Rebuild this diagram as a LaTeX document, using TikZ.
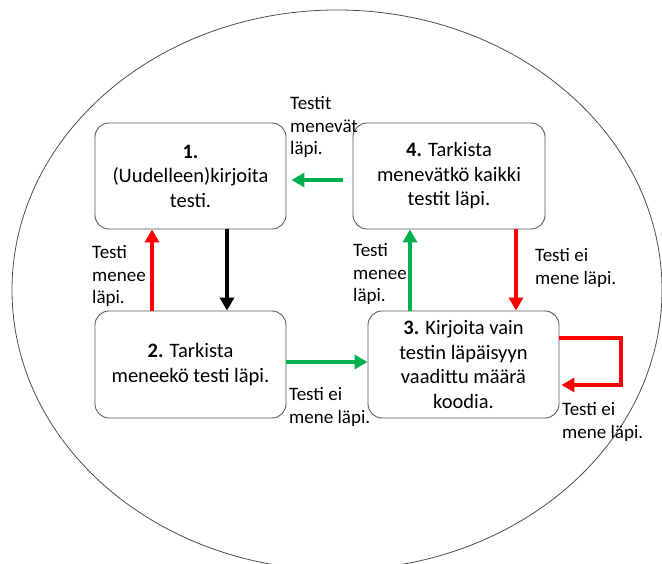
\documentclass[tikz,border=0pt]{standalone}
\usepackage{fontspec}
\setmainfont{Carlito}
\usetikzlibrary{arrows.meta}
\definecolor{okgreen}{HTML}{00B050}
\definecolor{boxgray}{HTML}{5A5A5A}
\definecolor{ellgray}{HTML}{4D4D4D}
\begin{document}
\begin{tikzpicture}[x=1pt,y=-1pt,
  box/.style={draw=boxgray, line width=0.9pt, rounded corners=14pt, minimum width=191pt, minimum height=106pt, align=center, font=\fontsize{20.5}{24.5}\selectfont, inner sep=2pt},
  lbl/.style={anchor=north west, align=left, inner sep=0pt, font=\fontsize{19}{22.8}\selectfont},
  arr/.style={line width=4pt, -{Triangle[width=14pt,length=13pt]}},
]
\useasboundingbox (0,0) rectangle (662,564);
\draw[ellgray, line width=0.8pt] (337,290) ellipse [x radius=325, y radius=280];

\node[box] (b1) at (190.5,176) {\textbf{1.}\\(Uudelleen)kirjoita\\testi.};
\node[box, minimum width=192pt] (b4) at (449,176) {\textbf{4.} Tarkista\\menevätkö kaikki\\testit läpi.};
\node[box, minimum height=107pt] (b2) at (190.5,364.5) {\textbf{2.} Tarkista\\meneekö testi läpi.};
\node[box, minimum height=107pt] (b3) at (463.5,364.5) {\textbf{3.} Kirjoita vain\\testin läpäisyyn\\vaadittu määrä\\koodia.};

\draw[arr, red] ([xshift=-38.5pt]b2.north) -- ([xshift=-38.5pt]b1.south);
\draw[arr, black] ([xshift=36.5pt]b1.south) -- ([xshift=36.5pt]b2.north);
\draw[arr, okgreen] ([xshift=-53.5pt]b3.north) -- ([xshift=-39pt]b4.south);
\draw[arr, red] ([xshift=67pt]b4.south) -- ([xshift=52.5pt]b3.north);
\draw[arr, okgreen] ([xshift=-10pt,yshift=-4pt]b4.west) -- ([xshift=5pt,yshift=-4pt]b1.east);
\draw[arr, okgreen] ([yshift=2.5pt]b2.east) -- ([yshift=2.5pt]b3.west);
\draw[arr, red] ([yshift=26.5pt]b3.east) -- ++(62,0) |- ([xshift=2pt,yshift=-20.5pt]b3.east);

\node[lbl] (l1) at (290,96) {Testit\\menevät\\läpi.};
\node[lbl] (l2) at (92,245) {Testi\\menee\\läpi.};
\node[lbl] (l3) at (353,243) {Testi\\menee\\läpi.};
\node[lbl] (l4) at (535,248) {Testi ei\\mene läpi.};
\node[lbl] (l5) at (289,387) {Testi ei\\mene läpi.};
\node[lbl] (l6) at (562,402) {Testi ei\\mene läpi.};
\end{tikzpicture}
\end{document}
